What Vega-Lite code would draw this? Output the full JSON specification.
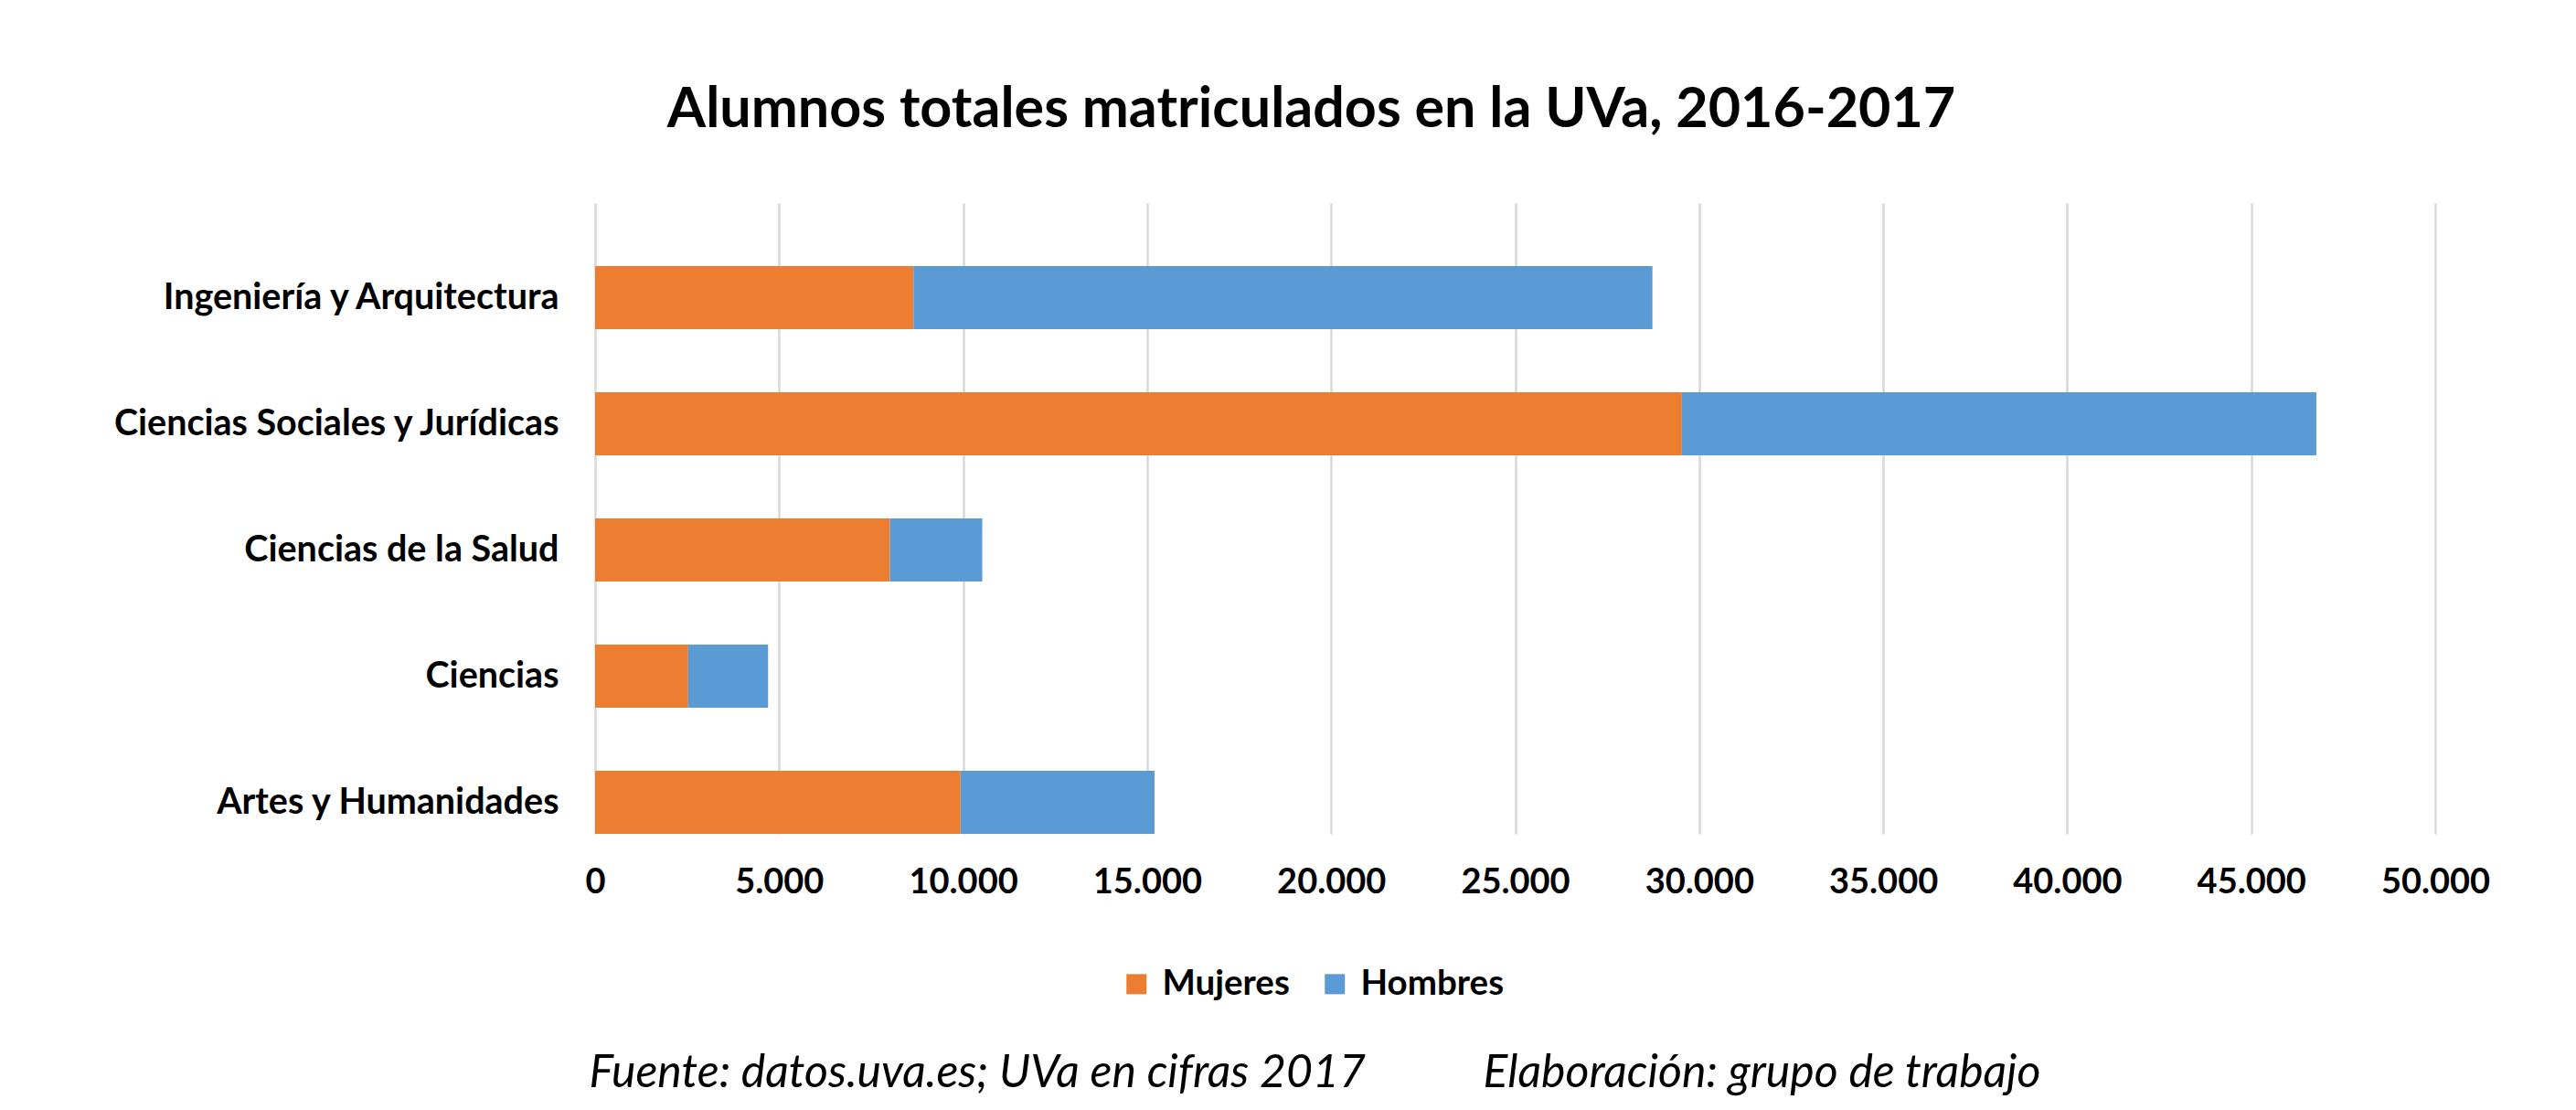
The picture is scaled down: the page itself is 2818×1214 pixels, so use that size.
{
  "$schema": "https://vega.github.io/schema/vega-lite/v6.json",
  "width": 2013,
  "height": 690,
  "autosize": {"type": "none"},
  "padding": {"left": 651, "top": 222, "right": 154, "bottom": 302},
  "background": "white",
  "title": {
    "text": "Alumnos totales matriculados en la UVa, 2016-2017",
    "anchor": "middle",
    "frame": "group",
    "dx": -223,
    "offset": 22,
    "baseline": "alphabetic",
    "font": "Lato",
    "fontSize": 61,
    "fontWeight": "bold",
    "color": "#000000"
  },
  "data": {
    "values": [
      {"rama": "Ingeniería y Arquitectura", "sexo": "Mujeres", "orden": 1, "alumnos": 8650},
      {"rama": "Ingeniería y Arquitectura", "sexo": "Hombres", "orden": 2, "alumnos": 20080},
      {"rama": "Ciencias Sociales y Jurídicas", "sexo": "Mujeres", "orden": 1, "alumnos": 29530},
      {"rama": "Ciencias Sociales y Jurídicas", "sexo": "Hombres", "orden": 2, "alumnos": 17240},
      {"rama": "Ciencias de la Salud", "sexo": "Mujeres", "orden": 1, "alumnos": 8010},
      {"rama": "Ciencias de la Salud", "sexo": "Hombres", "orden": 2, "alumnos": 2510},
      {"rama": "Ciencias", "sexo": "Mujeres", "orden": 1, "alumnos": 2530},
      {"rama": "Ciencias", "sexo": "Hombres", "orden": 2, "alumnos": 2170},
      {"rama": "Artes y Humanidades", "sexo": "Mujeres", "orden": 1, "alumnos": 9930},
      {"rama": "Artes y Humanidades", "sexo": "Hombres", "orden": 2, "alumnos": 5270}
    ]
  },
  "mark": {"type": "bar"},
  "encoding": {
    "y": {
      "field": "rama",
      "type": "nominal",
      "sort": null,
      "scale": {"paddingInner": 0.5, "paddingOuter": 0.25, "align": 1},
      "axis": {
        "title": null,
        "domain": false,
        "ticks": false,
        "grid": false,
        "labelPadding": 40,
        "labelLimit": 0,
        "labelFont": "Lato",
        "labelFontSize": 39.5,
        "labelFontWeight": "bold",
        "labelColor": "#000000"
      }
    },
    "x": {
      "field": "alumnos",
      "type": "quantitative",
      "stack": "zero",
      "scale": {"domain": [0, 50000], "nice": false},
      "axis": {
        "values": [0, 5000, 10000, 15000, 20000, 25000, 30000, 35000, 40000, 45000, 50000],
        "format": ",d",
        "domain": false,
        "ticks": false,
        "tickSize": 0,
        "grid": true,
        "gridColor": "#d9d9d9",
        "gridWidth": 2.5,
        "labelFlush": false,
        "labelOverlap": false,
        "labelBound": false,
        "labelPadding": 34,
        "labelFont": "Lato",
        "labelFontSize": 38,
        "labelFontWeight": "bold",
        "labelColor": "#000000",
        "title": "Fuente: datos.uva.es; UVa en cifras 2017\u00a0\u00a0\u00a0\u00a0\u00a0\u00a0\u00a0\u00a0\u00a0\u00a0\u00a0Elaboración: grupo de trabajo",
        "titleFont": "Lato",
        "titleFontSize": 50,
        "titleFontStyle": "italic",
        "titleFontWeight": "normal",
        "titleColor": "#000000",
        "titleLimit": 0,
        "titleX": 787,
        "titleY": 276,
        "titleAlign": "center",
        "titleBaseline": "alphabetic"
      }
    },
    "color": {
      "field": "sexo",
      "type": "nominal",
      "scale": {"domain": ["Mujeres", "Hombres"], "range": ["#ED7D31", "#5B9BD5"]},
      "legend": {
        "title": null,
        "orient": "none",
        "direction": "horizontal",
        "legendX": 573,
        "legendY": 835,
        "symbolType": "square",
        "symbolSize": 484,
        "symbolStrokeWidth": 0,
        "symbolOpacity": 1,
        "labelFont": "Lato",
        "labelFontSize": 38.5,
        "labelFontWeight": "bold",
        "labelColor": "#000000",
        "labelLimit": 0,
        "labelOffset": 9,
        "columnPadding": 30
      }
    },
    "order": {"field": "orden", "type": "quantitative"}
  },
  "config": {
    "locale": {
      "number": {"decimal": ",", "thousands": ".", "grouping": [3], "currency": ["", " €"]}
    },
    "view": {"stroke": null}
  }
}
